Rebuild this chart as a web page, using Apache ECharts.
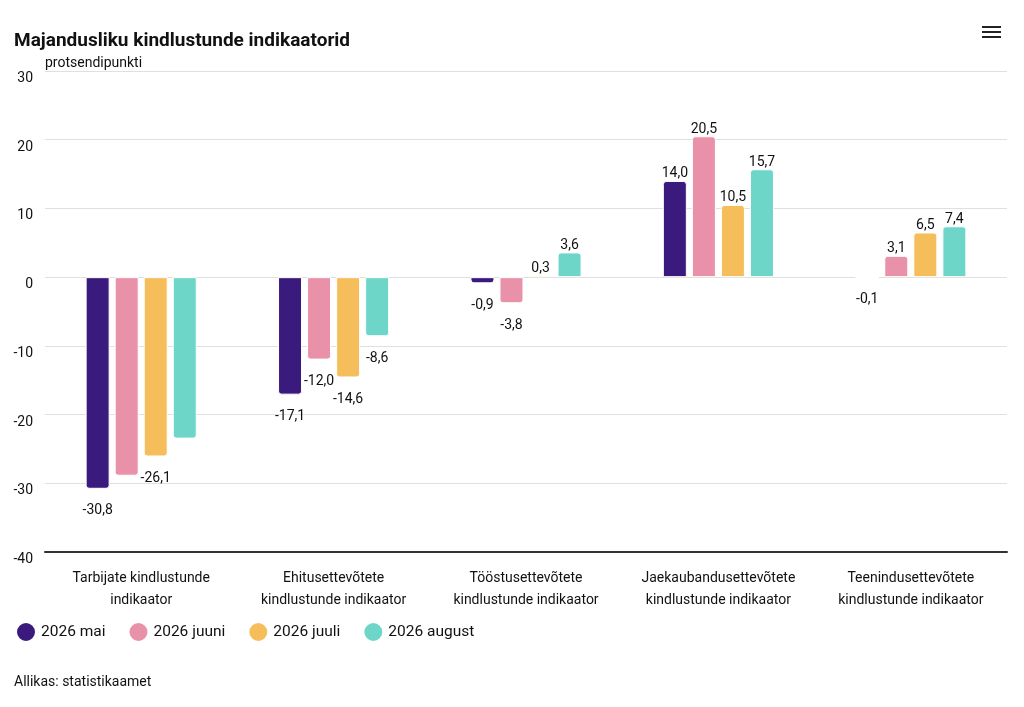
<!DOCTYPE html>
<html>
<head>
<meta charset="utf-8">
<style>
html,body{margin:0;padding:0;background:#fff;}
#chart{width:1024px;height:707px;}
</style>
<script src="https://cdn.jsdelivr.net/npm/echarts@6/dist/echarts.min.js"></script>
</head>
<body>
<div id="chart"></div>
<script>
const categories = [
  'Tarbijate kindlustunde\nindikaator',
  'Ehitusettevõtete\nkindlustunde indikaator',
  'Tööstusettevõtete\nkindlustunde indikaator',
  'Jaekaubandusettevõtete\nkindlustunde indikaator',
  'Teenindusettevõtete\nkindlustunde indikaator'
];
const seriesNames = ['2026 mai', '2026 juuni', '2026 juuli', '2026 august'];
const mai    = [-30.8, -17.1, -0.9, 14.0, -0.1];
const juuni  = [-28.9, -12.0, -3.8, 20.5, 3.1];
const juuli  = [-26.1, -14.6, 0.3, 10.5, 6.5];
const august = [-23.5, -8.6, 3.6, 15.7, 7.4];
const colors = ['#3b1a7e', '#e891a8', '#f5be5b', '#6dd6c8'];
// labels hidden in the reference (overlap): [seriesIndex, categoryIndex]
const hiddenLabels = [[1, 0], [3, 0]];
const yTicks = { min: -40, max: 30, interval: 10 };

const allData = [mai, juuni, juuli, august];
const FONT = 'Roboto, "Noto Sans", sans-serif';

function buildSeries(si) {
  return {
    name: seriesNames[si],
    type: 'bar',
    barWidth: 24,
    barGap: '21%',
    barCategoryGap: '44%',
    itemStyle: { color: colors[si], borderRadius: 2, borderColor: '#fff', borderWidth: 1 },
    data: allData[si].map((v, ci) => {
      const hide = hiddenLabels.some(h => h[0] === si && h[1] === ci);
      return {
        value: v,
        itemStyle: { borderRadius: v >= 0 ? [3, 3, 0, 0] : [0, 0, 3, 3] },
        label: {
          show: !hide,
          position: 'outside',
          distance: v >= 0 ? 0 : 15
        }
      };
    }),
    label: {
      show: true,
      position: 'outside',
      fontFamily: FONT,
      fontSize: 14,
      color: '#111',
      formatter: p => p.value.toFixed(1).replace('.', ',')
    }
  };
}

const chart = echarts.init(document.getElementById('chart'));
chart.setOption({
  animation: false,
  backgroundColor: '#fff',
  textStyle: { fontFamily: FONT },
  title: {
    text: 'Majandusliku kindlustunde indikaatorid',
    left: 14, top: 32, padding: 0,
    textStyle: { fontFamily: FONT, fontSize: 19, fontWeight: 'bold', color: '#111' }
  },
  legend: {
    left: 15, top: 621, padding: 0,
    icon: 'circle',
    itemWidth: 20, itemHeight: 20,
    itemGap: 22,
    textStyle: { fontFamily: FONT, fontSize: 15.5, color: '#111' },
    data: seriesNames
  },
  grid: { left: 45, right: 17, top: 71, bottom: 155, containLabel: false },
  xAxis: {
    type: 'category',
    data: categories,
    position: 'bottom',
    axisLine: { onZero: false, lineStyle: { color: '#333', width: 2 } },
    axisTick: { show: false },
    axisLabel: {
      fontFamily: FONT, fontSize: 14, color: '#111', lineHeight: 22, margin: 15, interval: 0
    }
  },
  yAxis: {
    type: 'value',
    min: yTicks.min, max: yTicks.max, interval: yTicks.interval,
    name: 'protsendipunkti',
    nameLocation: 'end',
    nameGap: 1,
    nameTextStyle: { fontFamily: FONT, fontSize: 14, color: '#111', align: 'left' },
    axisLine: { show: false },
    axisTick: { show: false },
    splitLine: { lineStyle: { color: '#e0e0e0', width: 1 } },
    axisLabel: { fontFamily: FONT, fontSize: 14, color: '#111', margin: 12, verticalAlign: 'top', lineHeight: 15 }
  },
  series: [0, 1, 2, 3].map(buildSeries),
  graphic: [
    { type: 'text', left: 14, top: 675,
      style: { text: 'Allikas: statistikaamet', font: '14px ' + FONT, fill: '#111' } },
    { type: 'rect', shape: { x: 982, y: 26, width: 19, height: 2 }, style: { fill: '#222' } },
    { type: 'rect', shape: { x: 982, y: 31, width: 19, height: 2 }, style: { fill: '#222' } },
    { type: 'rect', shape: { x: 982, y: 36, width: 19, height: 2 }, style: { fill: '#222' } }
  ]
});
</script>
</body>
</html>
